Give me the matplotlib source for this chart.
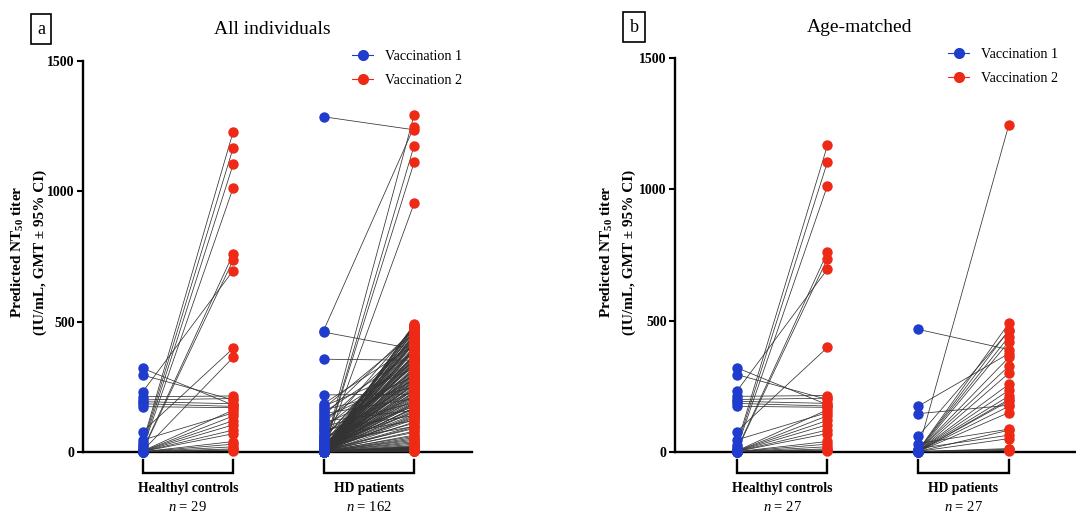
import matplotlib
matplotlib.use("Agg")
import matplotlib.pyplot as plt
from matplotlib.lines import Line2D

plt.rcParams['font.family'] = ['Liberation Serif', 'DejaVu Serif']
plt.rcParams['mathtext.fontset'] = 'custom'
plt.rcParams['mathtext.rm'] = 'Liberation Serif'
plt.rcParams['mathtext.it'] = 'Liberation Serif:italic'
plt.rcParams['mathtext.bf'] = 'Liberation Serif:bold'

# ---------------- data ----------------
groups = ["Healthyl controls", "HD patients"]
series_names = ["Vaccination 1", "Vaccination 2"]
panel_titles = ["All individuals", "Age-matched"]
panel_letters = ["a", "b"]
n_all = [29, 162]
n_age = [27, 27]
yticks = [0, 500, 1000, 1500]

# Panel a, healthy controls (paired V1 -> V2)
hc_all_v1 = [321, 295, 231, 212, 200, 193, 185, 174, 78, 46,
             35, 27, 18, 12, 8, 5, 5, 4, 3, 3,
             2, 2, 2, 1, 1, 1, 1, 1, 1]
hc_all_v2 = [180, 200, 696, 215, 205, 185, 175, 170, 398, 150,
             1229, 1167, 1104, 1014, 760, 736, 363, 161, 138, 120,
             104, 84, 70, 40, 30, 20, 12, 8, 5]

# Panel a, HD patients
hd_all_v1 = [1286, 466, 460, 356, 219, 3, 2, 5, 1, 4,
             185, 176, 168, 161, 152, 147, 139, 131, 124, 118,
             110, 104, 97, 91, 86, 79, 73, 67, 61, 56,
             52, 48, 44, 41, 38, 35, 33, 30, 28, 26,
             24, 22, 21, 19, 18, 17, 16, 15, 14, 13,
             12, 12, 11, 11, 10, 10, 9, 9, 9, 8,
             8, 8, 7, 7, 7, 7, 6, 6, 6, 6,
             6, 5, 5, 5, 5, 5, 5, 4, 4, 4,
             4, 4, 4, 4, 3, 3, 3, 3, 3, 3,
             3, 3, 3, 2, 2, 2, 2, 2, 2, 2,
             2, 2, 2, 2, 2, 2, 1, 1, 1, 1,
             1, 1, 1, 1, 1, 1, 1, 1, 1, 1,
             1, 1, 1, 1, 1, 1, 1, 1, 1, 1,
             1, 1, 1, 1, 1, 1, 1, 1, 1, 1,
             1, 1, 1, 1, 1, 1, 1, 1, 1, 1,
             1, 1, 1, 1, 1, 1, 1, 1, 1, 1,
             1, 1]
hd_all_v2 = [1236, 1248, 395, 352, 222, 1293, 1175, 1111, 954, 488,
             410, 320, 455, 250, 380, 205, 470, 290, 345, 160,
             430, 275, 190, 362, 140, 480, 235, 310, 120, 415,
             268, 445, 175, 330, 98, 390, 215, 460, 150, 300,
             355, 255, 420, 185, 340, 110, 475, 230, 285, 405,
             165, 370, 440, 200, 315, 130, 490, 260, 385, 90,
             350, 425, 245, 180, 465, 295, 145, 400, 210, 335,
             75, 450, 270, 360, 195, 485, 125, 305, 240, 435,
             170, 375, 60, 280, 415, 225, 325, 155, 470, 100,
             395, 265, 45, 340, 190, 445, 135, 290, 220, 365,
             80, 420, 250, 310, 170, 35, 455, 205, 345, 115,
             275, 390, 25, 230, 480, 160, 320, 18, 400, 95,
             12, 260, 15, 355, 8, 185, 20, 430, 10, 140,
             22, 300, 6, 215, 14, 65, 9, 370, 5, 50,
             16, 4, 240, 11, 30, 7, 13, 285, 3, 19,
             8, 55, 6, 10, 40, 12, 5, 2, 9, 4,
             7, 3]

# Panel b, healthy controls
hc_age_v1 = [321, 295, 231, 212, 200, 193, 185, 174, 78, 46,
             27, 18, 12, 8, 5, 4, 3, 3,
             2, 2, 2, 1, 1, 1, 1, 1, 1]
hc_age_v2 = [180, 200, 696, 215, 205, 185, 175, 170, 398, 150,
             1167, 1104, 1014, 760, 736, 161, 138, 120,
             104, 84, 70, 40, 30, 20, 12, 8, 5]

# Panel b, HD patients
hd_age_v1 = [467, 174, 146, 60, 32, 13, 8, 6, 5, 5,
             4, 4, 3, 3, 3, 2, 2, 2, 2, 2,
             1, 1, 1, 1, 1, 1, 1]
hd_age_v2 = [390, 375, 178, 460, 87, 64, 1246, 490, 464, 439,
             360, 327, 258, 235, 213, 194, 174, 83, 51, 13,
             10, 6, 420, 300, 200, 150, 5]

# ---------------- style ----------------
BLUE = "#1f3ccc"
RED = "#ee2a16"
LINE = "#333333"

fig = plt.figure(figsize=(10.76, 5.14), dpi=100)

W, H = 1076, 514
def fig_rect(x0, y_top, x1, y_bot):
    return [x0 / W, 1 - y_bot / H, (x1 - x0) / W, (y_bot - y_top) / H]

panels = [
    dict(rect=fig_rect(83, 61, 472, 452), xlim=(-0.66, 3.64),
         data=[(hc_all_v1, hc_all_v2), (hd_all_v1, hd_all_v2)], ns=n_all,
         title_x=272, title_y=30, letter_x=41, letter_y=29,
         leg_x=352, leg_y=50, ylab_x=[18, 40]),
    dict(rect=fig_rect(675, 58, 1076, 452), xlim=(-0.68, 3.74),
         data=[(hc_age_v1, hc_age_v2), (hd_age_v1, hd_age_v2)], ns=n_age,
         title_x=860, title_y=27, letter_x=634, letter_y=27,
         leg_x=948, leg_y=48, ylab_x=[607, 629]),
]

for p_i, p in enumerate(panels):
    ax = fig.add_axes(p["rect"])
    ax.set_xlim(*p["xlim"])
    ax.set_ylim(0, 1500)
    for s in ["top", "right"]:
        ax.spines[s].set_visible(False)
    for s in ["left", "bottom"]:
        ax.spines[s].set_linewidth(1.7)
        ax.spines[s].set_color("black")
    ax.spines["bottom"].set_zorder(1)
    ax.set_yticks(yticks)
    ax.set_yticklabels([str(t) for t in yticks], fontweight="bold", fontsize=10)
    ax.tick_params(axis="y", length=4, width=1.5, pad=2)

    xpos_all = []
    for g_i, (v1, v2) in enumerate(p["data"]):
        x1, x2 = 2 * g_i, 2 * g_i + 1
        xpos_all += [x1, x2]
        for a, b in zip(v1, v2):
            ax.plot([x1, x2], [a, b], color=LINE, lw=0.55, zorder=2, clip_on=False)
        ax.plot([x1] * len(v1), v1, "o", color=BLUE, ms=7.5, mec="none", zorder=3, clip_on=False)
        ax.plot([x2] * len(v2), v2, "o", color=RED, ms=7.5, mec="none", zorder=3, clip_on=False)
        # bracket
        tr = ax.get_xaxis_transform()
        ax.plot([x1, x1, x2, x2], [-0.02, -0.054, -0.054, -0.02], transform=tr,
                color="black", lw=1.7, clip_on=False, solid_joinstyle="miter")
        ax.text((x1 + x2) / 2, -0.093, groups[g_i], transform=tr, ha="center", va="center",
                fontsize=9.8, fontweight="bold")
        ax.text((x1 + x2) / 2, -0.14, r"$n$ = " + str(p["ns"][g_i]), transform=tr,
                ha="center", va="center", fontsize=10.5)
    ax.set_xticks(xpos_all)
    ax.set_xticklabels([])
    ax.tick_params(axis="x", length=2, width=0.8, color="#555555")

    # y label
    fig.text(p["ylab_x"][0] / W, 1 - 252 / H, r"Predicted NT$_{\mathbf{50}}$ titer",
             rotation=90, ha="center", va="center", fontsize=11, fontweight="bold")
    fig.text(p["ylab_x"][1] / W, 1 - 252 / H, "(IU/mL, GMT \u00b1 95% CI)",
             rotation=90, ha="center", va="center", fontsize=11, fontweight="bold")

    # title
    fig.text(p["title_x"] / W, 1 - p["title_y"] / H, panel_titles[p_i],
             ha="center", va="center", fontsize=14)
    # letter box
    fig.text(p["letter_x"] / W, 1 - p["letter_y"] / H, panel_letters[p_i],
             ha="center", va="center", fontsize=13,
             bbox=dict(boxstyle="square,pad=0.35", fc="white", ec="black", lw=1.2))

    handles = [Line2D([0], [0], color=c, marker="o", ms=8, mec="none", lw=0.8)
               for c in (BLUE, RED)]
    fig.legend(handles, series_names, loc="upper left",
               bbox_to_anchor=(p["leg_x"] / W, 1 - p["leg_y"] / H),
               frameon=False, fontsize=10.2, handlelength=1.5, handletextpad=0.8,
               labelspacing=0.8, borderpad=0, borderaxespad=0)

fig.savefig("out.png", dpi=100)
